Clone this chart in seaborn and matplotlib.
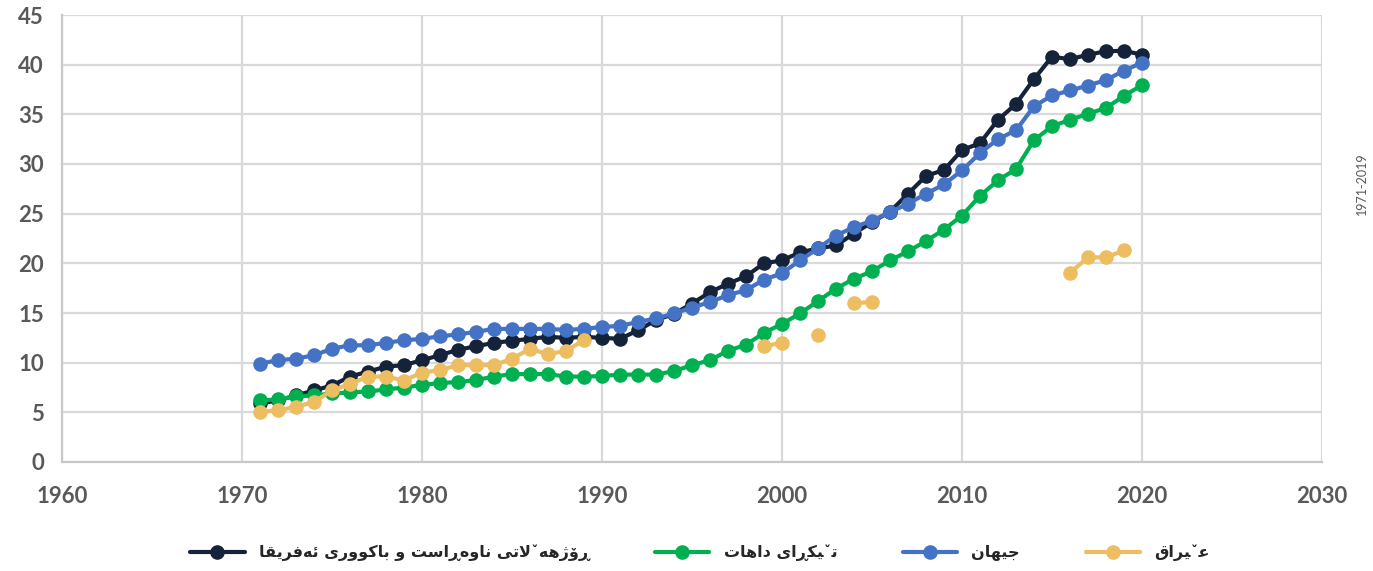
import numpy as np
import pandas as pd
import matplotlib
matplotlib.use('Agg')
import matplotlib.pyplot as plt
from matplotlib.lines import Line2D
import seaborn as sns

# ---- data ----
years = list(range(1971, 2021))

mena = [5.9, 6.2, 6.7, 7.2, 7.7, 8.6, 9.1, 9.6, 9.75, 10.25,
        10.75, 11.3, 11.65, 12.0, 12.2, 12.4, 12.6, 12.5, 12.6, 12.5,
        12.4, 13.25, 14.3, 14.9, 15.95, 17.1, 17.95, 18.7, 20.0, 20.3,
        21.1, 21.5, 21.8, 23.0, 24.15, 25.2, 27.0, 28.8, 29.4, 31.4,
        32.1, 34.45, 36.05, 38.55, 40.8, 40.55, 41.0, 41.35, 41.4, 41.0]

middle_income = [6.2, 6.3, 6.6, 6.7, 6.9, 7.0, 7.1, 7.3, 7.5, 7.75,
                 7.95, 8.05, 8.25, 8.6, 8.85, 8.85, 8.85, 8.6, 8.6, 8.65,
                 8.8, 8.8, 8.8, 9.15, 9.75, 10.25, 11.2, 11.8, 13.0, 13.9,
                 14.95, 16.2, 17.45, 18.45, 19.2, 20.3, 21.2, 22.25, 23.4, 24.8,
                 26.8, 28.35, 29.5, 32.4, 33.8, 34.45, 35.05, 35.65, 36.85, 37.95]

world = [9.9, 10.25, 10.4, 10.75, 11.4, 11.75, 11.75, 12.0, 12.25, 12.4,
         12.65, 12.85, 13.1, 13.4, 13.4, 13.4, 13.4, 13.3, 13.4, 13.6,
         13.7, 14.1, 14.45, 14.95, 15.55, 16.1, 16.8, 17.3, 18.35, 19.0,
         20.3, 21.5, 22.8, 23.65, 24.3, 25.15, 26.0, 27.0, 27.95, 29.35,
         31.1, 32.5, 33.4, 35.8, 36.9, 37.4, 37.9, 38.45, 39.4, 40.2]

nan = np.nan
iraq = [5.05, 5.2, 5.55, 6.05, 7.2, 7.85, 8.6, 8.6, 8.2, 9.0,
        9.25, 9.75, 9.75, 9.75, 10.4, 11.4, 10.85, 11.2, 12.25, nan,
        nan, nan, nan, nan, nan, nan, nan, nan, 11.65, 12.0,
        nan, 12.8, nan, 16.0, 16.1, nan, nan, nan, nan, nan,
        nan, nan, nan, nan, nan, 19.05, 20.6, 20.6, 21.3, nan]

labels = ['ڕۆژهەڵاتی ناوەڕاست و باکووری ئەفریقا', 'تێکڕای داهات', 'جیهان', 'عێراق']
colors = ['#14233a', '#00b050', '#4472c4', '#edbd62']
series = [mena, middle_income, world, iraq]

x_ticks = list(range(1960, 2031, 10))
y_ticks = list(range(0, 46, 5))
side_note = '1971-2019'


# ---- minimal Arabic-script shaping (matplotlib draws glyphs left to right, unshaped) ----
FORMS = {
    '\u0627': ('\uFE8D', '\uFE8E', None, None),
    '\u0628': ('\uFE8F', '\uFE90', '\uFE91', '\uFE92'),
    '\u062A': ('\uFE95', '\uFE96', '\uFE97', '\uFE98'),
    '\u062C': ('\uFE9D', '\uFE9E', '\uFE9F', '\uFEA0'),
    '\u062F': ('\uFEA9', '\uFEAA', None, None),
    '\u0631': ('\uFEAD', '\uFEAE', None, None),
    '\u0633': ('\uFEB1', '\uFEB2', '\uFEB3', '\uFEB4'),
    '\u0639': ('\uFEC9', '\uFECA', '\uFECB', '\uFECC'),
    '\u0641': ('\uFED1', '\uFED2', '\uFED3', '\uFED4'),
    '\u0642': ('\uFED5', '\uFED6', '\uFED7', '\uFED8'),
    '\u0644': ('\uFEDD', '\uFEDE', '\uFEDF', '\uFEE0'),
    '\u0646': ('\uFEE5', '\uFEE6', '\uFEE7', '\uFEE8'),
    '\u0647': ('\uFEE9', '\uFEEA', '\uFEEB', '\uFEEC'),
    '\u0648': ('\uFEED', '\uFEEE', None, None),
    '\u0626': ('\uFE89', '\uFE8A', '\uFE8B', '\uFE8C'),
    '\u0698': ('\uFB8A', '\uFB8B', None, None),
    '\u06A9': ('\uFB8E', '\uFB8F', '\uFB90', '\uFB91'),
    '\u06CC': ('\uFBFC', '\uFBFD', '\uFBFE', '\uFBFF'),
    '\u06C6': ('\uFBD9', '\uFBDA', None, None),
    '\u06D5': ('\uFEE9', '\uFEEA', None, None),
    '\u0695': ('\u0695', '\u0695', None, None),
}
# letters with a small v above: drawn as base letter + combining mark
WITH_V = {'\u06B5': '\u0644', '\u06CE': '\u06CC'}
MARK_V = '\u065A'


def shape(text):
    chars = []
    for c in text:
        if c in WITH_V:
            chars.append((WITH_V[c], MARK_V))
        else:
            chars.append((c, ''))

    def dual(c):
        return c in FORMS and FORMS[c][2] is not None

    out = []
    i = 0
    n = len(chars)
    while i < n:
        c, mark = chars[i]
        if c not in FORMS:
            out.append(c + mark)
            i += 1
            continue
        joins_prev = i > 0 and dual(chars[i - 1][0])
        if c == '\u0644' and i + 1 < n and chars[i + 1][0] == '\u0627':
            out.append(('\uFEFC' if joins_prev else '\uFEFB') + mark)
            i += 2
            continue
        joins_next = dual(c) and i + 1 < n and chars[i + 1][0] in FORMS
        iso, fin, ini, med = FORMS[c]
        if joins_prev and joins_next:
            g = med
        elif joins_prev:
            g = fin
        elif joins_next:
            g = ini
        else:
            g = iso
        out.append(g + mark)
        i += 1
    return ''.join(reversed(out))


# ---- figure ----
sns.set_style("white")
plt.rcParams['font.family'] = ['Lato', 'DejaVu Sans']

fig = plt.figure(figsize=(13.73, 5.71), dpi=100)
ax = fig.add_axes([62 / 1373, 1 - 462 / 571, (1322 - 62) / 1373, (462 - 15) / 571])

for name, vals, col in zip(labels, series, colors):
    s = pd.Series(vals, index=years)
    # draw each unbroken run separately so the gaps stay open
    ok = s.notna()
    run_id = (~ok).cumsum()
    for _, run in s[ok].groupby(run_id[ok]):
        sns.lineplot(x=run.index, y=run.values, ax=ax, color=col, lw=3.0,
                     marker='o', markersize=10.5, markeredgewidth=0,
                     legend=False)

ax.set_xlim(1960, 2030)
ax.set_ylim(0, 45)
ax.set_xticks(x_ticks)
ax.set_yticks(y_ticks)
ax.grid(True, color='#d9d9d9', lw=1.6)
ax.set_axisbelow(True)
for side in ['top', 'right']:
    ax.spines[side].set_visible(False)
for side in ['left', 'bottom']:
    ax.spines[side].set_color('#c8c8c8')
    ax.spines[side].set_linewidth(1.6)
ax.tick_params(axis='both', length=0, labelsize=16, labelcolor='#595959')
ax.tick_params(axis='x', pad=17)
ax.tick_params(axis='y', pad=13)
for lab in ax.get_xticklabels() + ax.get_yticklabels():
    lab.set_fontweight('bold')
ax.set_xlabel('')
ax.set_ylabel('')

handles = [Line2D([0], [0], color=c, lw=3.0, marker='o', markersize=10.5,
                  markeredgewidth=0) for c in colors]
leg = fig.legend(handles, [shape(l) for l in labels], loc='center',
                 bbox_to_anchor=(700 / 1373, 1 - 553 / 571), ncol=4,
                 frameon=False, handlelength=3.4, handletextpad=0.9,
                 columnspacing=4.1,
                 prop={'family': 'DejaVu Sans', 'weight': 'bold', 'size': 11.5})

fig.text(1362 / 1373, 1 - 215 / 571, side_note, rotation=90, ha='center',
         va='bottom', fontsize=9, color='#595959')

plt.savefig('out.png', dpi=100)
plt.close()
